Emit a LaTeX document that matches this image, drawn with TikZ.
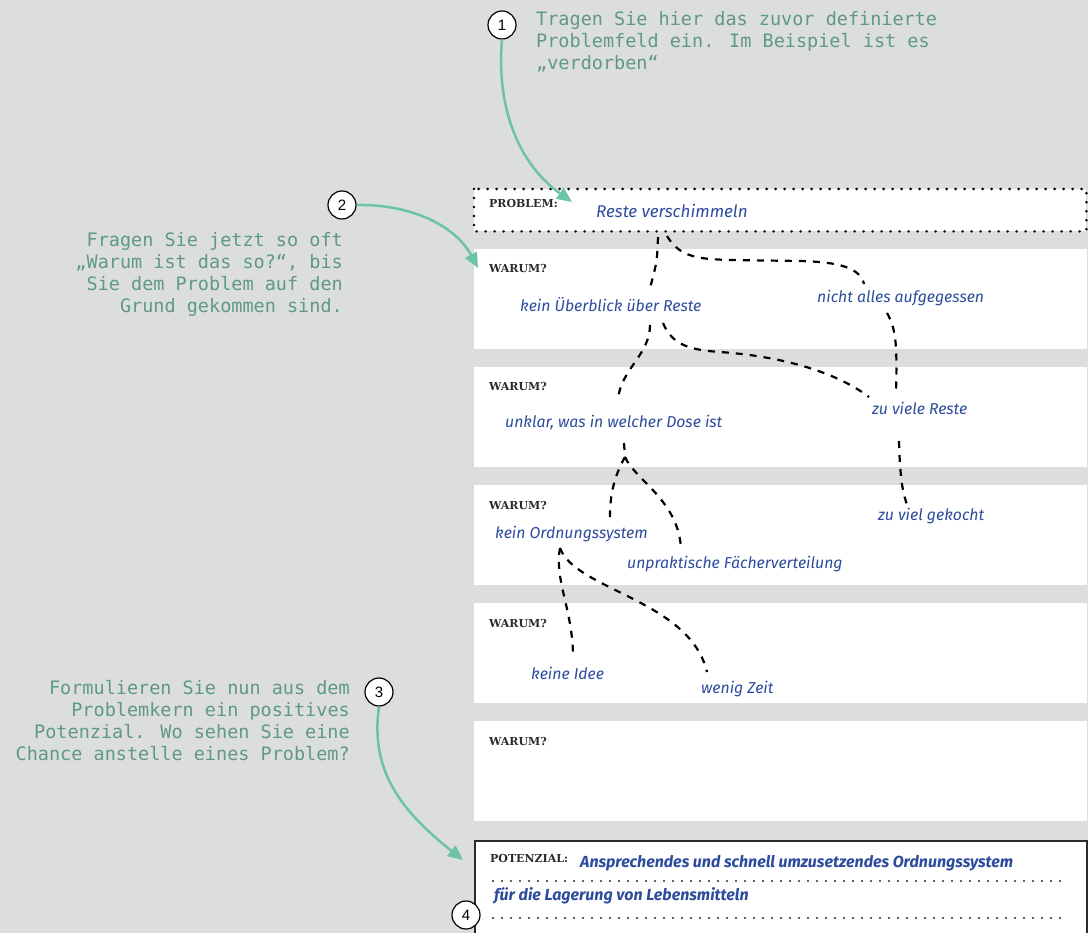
\documentclass[tikz,border=0pt]{standalone}
\usepackage{fontspec}
\usetikzlibrary{arrows.meta,calc}

\newfontfamily\annotfont{DejaVu Sans Mono}
\newfontfamily\warumfont{DejaVu Serif Bold}
\newfontfamily\handfont{Fira Sans}
\newfontfamily\circfont{Liberation Sans}

\definecolor{bggray}{HTML}{DCDDDF}
\definecolor{annotgreen}{HTML}{5F9A80}
\definecolor{arrowgreen}{HTML}{6CC3A5}
\definecolor{inkblue}{HTML}{2E4C9E}
\definecolor{labeldark}{HTML}{2B2B2B}

\tikzset{
  row/.style={fill=white, draw=none, inner sep=0pt, anchor=north west,
    minimum width=613pt, minimum height=100pt},
  warum/.style={anchor=base west, inner sep=0pt, text=labeldark,
    font=\warumfont\fontsize{11}{13}\selectfont},
  hand/.style={anchor=base west, inner sep=0pt, text=inkblue,
    font=\handfont\itshape\fontsize{15.8}{18}\selectfont},
  handbig/.style={hand, font=\handfont\itshape\fontsize{17}{20}\selectfont},
  handbold/.style={hand, font=\handfont\bfseries\itshape\fontsize{16}{20}\selectfont},
  link/.style={draw=black, line width=2.2pt, dash pattern=on 7pt off 7pt},
  dotframe/.style={draw=black, line width=2.8pt, line cap=round,
    dash pattern=on 0pt off 9pt},
  dotrule/.style={draw=labeldark, line width=2.4pt, line cap=round,
    dash pattern=on 0pt off 9pt},
  badge/.style={circle, draw=black, line width=1.2pt, fill=white,
    minimum size=28pt, inner sep=0pt, font=\circfont\fontsize{15}{15}\selectfont},
  hint/.style={draw=arrowgreen, line width=2.5pt,
    -{Triangle[length=15pt,width=13pt]}},
  annot/.style={inner sep=0pt, text=annotgreen,
    font=\annotfont\fontsize{18.5}{22}\selectfont},
}

\begin{document}
\begin{tikzpicture}[x=1pt,y=-1pt]
\useasboundingbox (0,0) rectangle (1088,933);
\fill[bggray] (0,0) rectangle (1088,933);

% problem field with dotted frame
\node[fill=white, inner sep=0pt, anchor=north west,
      minimum width=612pt, minimum height=42pt] (problem) at (474,189) {};
\draw[dotframe] (problem.north west) rectangle (problem.south east);
\node[warum] (problemlabel) at (489,208) {PROBLEM:};
\node[handbig] (prob) at (596,218) {Reste verschimmeln};

% the five "why" rows
\node[row] (w1) at (474,249) {};
\node[row] (w2) at (474,367) {};
\node[row] (w3) at (474,485) {};
\node[row] (w4) at (474,603) {};
\node[row] (w5) at (474,721) {};
\foreach \r in {w1,w2,w3,w4,w5}
  \node[warum] (\r-label) at ($(\r.north west)+(15,24)$) {WARUM?};

% potential box
\node[draw=labeldark, line width=2pt, fill=white, inner sep=0pt, anchor=north west,
      minimum width=612pt, minimum height=120pt] (pot) at (474,840) {};
\node[warum] (potlabel) at (490,862) {POTENZIAL:};
\node[handbold] (pot1) at (580,867) {Ansprechendes und schnell umzusetzendes Ordnungssystem};
\node[handbold] (pot2) at (494,900) {für die Lagerung von Lebensmitteln};
\draw[dotrule] (493,881) -- (1066,881);
\draw[dotrule] (493,918) -- (1066,918);

% handwritten causes
\node[hand] (h1) at (520,312) {kein Überblick über Reste};
\node[hand] (h2) at (817,303) {nicht alles aufgegessen};
\node[hand] (h3) at (505,428) {unklar, was in welcher Dose ist};
\node[hand] (h4) at (872,415) {zu viele Reste};
\node[hand] (h5) at (495,538) {kein Ordnungssystem};
\node[hand] (h6) at (878,520) {zu viel gekocht};
\node[hand] (h7) at (627,568) {unpraktische Fächerverteilung};
\node[hand] (h8) at (531,679) {keine Idee};
\node[hand] (h9) at (701,693) {wenig Zeit};

% connector end points
\coordinate (prob-a) at (658,237);
\coordinate (prob-b) at (667,236);
\coordinate (h1-in) at (650,288);
\coordinate (h1-a) at (650,325);
\coordinate (h1-b) at (663,323);
\coordinate (h2-in) at (864,284);
\coordinate (h2-out) at (887,313);
\coordinate (h3-in) at (618,400);
\coordinate (h3-out) at (624,443);
\coordinate (h3-fork) at (625,457);
\coordinate (h4-in) at (896,392);
\coordinate (h4-in2) at (869,397);
\coordinate (h4-out) at (899,441);
\coordinate (h5-in) at (610,517);
\coordinate (h5-out) at (560,548);
\coordinate (h6-in) at (908,507);
\coordinate (h7-in) at (681,548);
\coordinate (h8-in) at (573,657);
\coordinate (h9-in) at (707,672);

% dashed cause links
\draw[link] (prob-a) .. controls (657,262) .. (h1-in);
\draw[link] (prob-b) .. controls (680,258) and (700,259) .. (730,260)
  -- (800,261) .. controls (840,262) and (860,268) .. (h2-in);
\draw[link] (h2-out) .. controls (897,330) and (897,350) .. (h4-in);
\draw[link] (h1-a) .. controls (650,355) and (620,370) .. (h3-in);
\draw[link] (h1-b) .. controls (672,345) and (690,350) .. (720,352)
  .. controls (790,357) and (840,375) .. (h4-in2);
\draw[link] (h4-out) .. controls (900,480) and (903,495) .. (h6-in);
\draw[link] (h3-out) -- (h3-fork) .. controls (612,480) and (610,500) .. (h5-in);
\draw[link] (h3-fork) .. controls (635,480) and (678,500) .. (h7-in);
\draw[link] (h5-out) .. controls (554,580) and (573,610) .. (h8-in);
\draw[link] (h5-out) .. controls (575,590) and (690,600) .. (h9-in);

% instructions
\node[annot, anchor=base west] (t1) at (536,26)
  {\parbox[t]{460pt}{\raggedright Tragen Sie hier das zuvor definierte\\Problemfeld ein. Im Beispiel ist es\\„verdorben“}};
\node[annot, anchor=base east] (t2) at (343,247)
  {\parbox[t]{330pt}{\raggedleft Fragen Sie jetzt so oft\\„Warum ist das so?“, bis\\Sie dem Problem auf den\\Grund gekommen sind.}};
\node[annot, anchor=base east] (t3) at (350,694)
  {\parbox[t]{345pt}{\raggedleft Formulieren Sie nun aus dem\\Problemkern ein positives\\Potenzial. Wo sehen Sie eine\\Chance anstelle eines Problem?}};

% numbered badges and pointer arrows
\node[badge] (b1) at (502,25) {1};
\node[badge] (b2) at (342,205) {2};
\node[badge] (b3) at (379,692) {3};
\node[badge] (b4) at (466,915) {4};
\coordinate (p1) at (572,202);
\coordinate (p2) at (478,268);
\coordinate (p3) at (463,860);
\draw[hint] (b1.south) .. controls (496,110) and (520,165) .. (p1);
\draw[hint] (b2.east) .. controls (410,204) and (455,225) .. (p2);
\draw[hint] (b3.south) .. controls (370,770) and (400,810) .. (p3);
\end{tikzpicture}
\end{document}
